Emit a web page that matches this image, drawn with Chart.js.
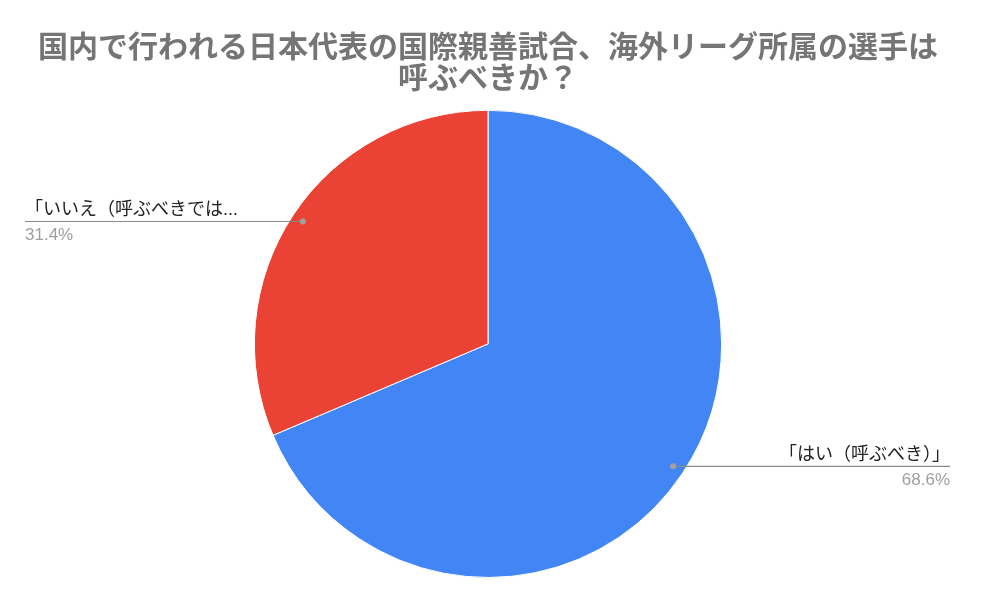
<!DOCTYPE html>
<html>
<head>
<meta charset="utf-8">
<script src="https://cdn.jsdelivr.net/npm/chart.js@4"></script>
<style>
  html, body { margin: 0; padding: 0; background: #fff; }
  #wrap { width: 981px; height: 607px; }
</style>
</head>
<body>
<div id="wrap"><canvas id="pie"></canvas></div>
<script>
// data
const categories = ['「はい（呼ぶべき）」', '「いいえ（呼ぶべきでは...'];
const shares = [68.6, 31.4];
const sliceColors = ['#4285F4', '#EA4335'];
const titleLines = ['国内で行われる日本代表の国際親善試合、海外リーグ所属の選手は', '呼ぶべきか？'];

const labelFont = '18px "Liberation Sans", "Noto Sans CJK JP", sans-serif';
const pctFont = '17px "Liberation Sans", "Noto Sans CJK JP", sans-serif';

// leader line + text for each slice, google sheets style
const sliceLabels = {
  id: 'sliceLabels',
  afterDraw(chart) {
    const ctx = chart.ctx;
    const meta = chart.getDatasetMeta(0);
    const total = shares.reduce((a, b) => a + b, 0);
    meta.data.forEach((arc, i) => {
      const mid = (arc.startAngle + arc.endAngle) / 2;
      const r = arc.outerRadius * 0.95;
      const px = arc.x + Math.cos(mid) * r;
      const py = arc.y + Math.sin(mid) * r;
      const right = Math.cos(mid) > 0;
      const endX = right ? 950 : 25;

      ctx.save();
      ctx.strokeStyle = '#8a8a8a';
      ctx.lineWidth = 1.2;
      ctx.beginPath();
      ctx.moveTo(px, py);
      ctx.lineTo(endX, py);
      ctx.stroke();

      ctx.fillStyle = '#a0a0a0';
      ctx.beginPath();
      ctx.arc(px, py, 3, 0, Math.PI * 2);
      ctx.fill();

      ctx.textAlign = right ? 'right' : 'left';
      ctx.textBaseline = 'alphabetic';
      ctx.font = labelFont;
      ctx.fillStyle = '#222';
      ctx.fillText(categories[i], endX, py - 6);

      ctx.textBaseline = 'top';
      ctx.font = pctFont;
      ctx.fillStyle = '#9e9e9e';
      ctx.fillText((shares[i] / total * 100).toFixed(1) + '%', endX, py + 5);
      ctx.restore();
    });
  }
};

new Chart(document.getElementById('pie'), {
  type: 'pie',
  data: {
    labels: categories,
    datasets: [{
      data: shares,
      backgroundColor: sliceColors,
      borderColor: '#ffffff',
      borderWidth: 1,
      hoverOffset: 0
    }]
  },
  options: {
    responsive: true,
    maintainAspectRatio: false,
    animation: false,
    layout: { padding: { left: 0, right: 5, top: 0, bottom: 29 } },
    plugins: {
      legend: { display: false },
      tooltip: { enabled: false },
      title: {
        display: true,
        text: titleLines,
        color: '#757575',
        font: { family: '"Noto Sans CJK JP", sans-serif', size: 30, weight: 'bold', lineHeight: 1.03 },
        padding: { top: 30, bottom: 18 }
      }
    }
  },
  plugins: [sliceLabels]
});
</script>
</body>
</html>
